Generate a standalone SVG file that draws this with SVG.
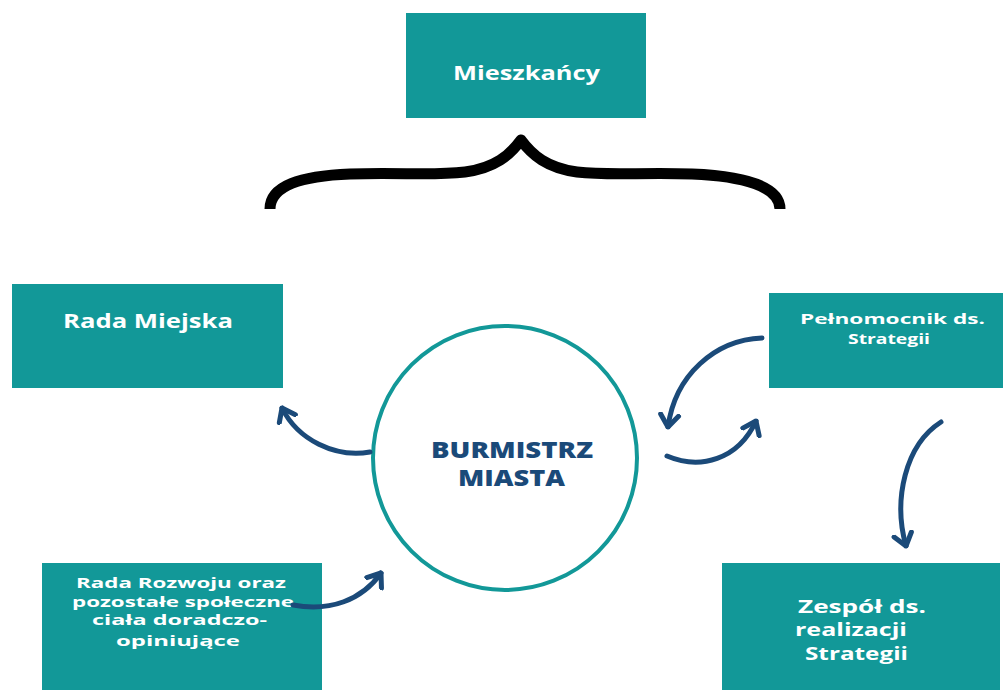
<svg xmlns="http://www.w3.org/2000/svg" width="1003" height="690" viewBox="0 0 1003 690">
<style>
.box{fill:#129898}
.t{fill:#fff;font-family:"Open Sans",sans-serif;font-weight:bold}
.arr{fill:none;stroke:#1b4a79;stroke-width:5;stroke-linecap:round;stroke-linejoin:round}
.bt{font-family:"Open Sans",sans-serif;font-weight:800;fill:#1b4a79}
</style>
<defs>
<marker id="ah" viewBox="-14 -12 16 24" markerWidth="16" markerHeight="24" refX="0" refY="0" orient="auto" markerUnits="userSpaceOnUse">
<path d="M-12,-9 L0,0 L-12,9" fill="none" stroke="#1b4a79" stroke-width="5" stroke-linecap="round" stroke-linejoin="round"/>
</marker>
</defs>
<rect width="1003" height="690" fill="#fff"/>
<g id="mieszkancy">
<rect class="box" x="406" y="13" width="240" height="105"/>
<text class="t" x="453" y="80" font-size="19" textLength="147" lengthAdjust="spacingAndGlyphs">Mieszkańcy</text>
</g>
<g id="brace">
<path d="M270,209 C270,186 300,176 350,174 C400,172 430,176 465,172 C495,168 510,155 521,140 C532,155 547,168 577,172 C612,176 642,172 692,174 C742,176 780,186 780,209" fill="none" stroke="#000" stroke-width="11" stroke-linejoin="round"/>
</g>
<g id="rada-miejska">
<rect class="box" x="12" y="284" width="271" height="104"/>
<text class="t" x="63" y="328" font-size="19" textLength="170" lengthAdjust="spacingAndGlyphs">Rada Miejska</text>
</g>
<g id="pelnomocnik">
<rect class="box" x="769" y="293" width="234" height="95"/>
<text class="t" x="800" y="324" font-size="15" textLength="185" lengthAdjust="spacingAndGlyphs">Pełnomocnik ds.</text>
<text class="t" x="848" y="344" font-size="15" textLength="82" lengthAdjust="spacingAndGlyphs">Strategii</text>
</g>
<g id="burmistrz">
<circle cx="505" cy="458" r="132" fill="#fff" stroke="#129898" stroke-width="4"/>
<text class="bt" x="431" y="458" font-size="22" textLength="162" lengthAdjust="spacingAndGlyphs">BURMISTRZ</text>
<text class="bt" x="458" y="486" font-size="22" textLength="107" lengthAdjust="spacingAndGlyphs">MIASTA</text>
</g>
<g id="rada-rozwoju">
<rect class="box" x="42" y="563" width="280" height="127"/>
<g class="t" font-size="14.5">
<text x="76" y="588" textLength="210" lengthAdjust="spacingAndGlyphs">Rada Rozwoju oraz</text>
<text x="72" y="607" textLength="222" lengthAdjust="spacingAndGlyphs">pozostałe społeczne</text>
<text x="92" y="625" textLength="175" lengthAdjust="spacingAndGlyphs">ciała doradczo-</text>
<text x="116" y="646" textLength="124" lengthAdjust="spacingAndGlyphs">opiniujące</text>
</g>
</g>
<g id="zespol">
<rect class="box" x="722" y="563" width="278" height="127"/>
<g class="t" font-size="17">
<text x="798" y="613" textLength="128" lengthAdjust="spacingAndGlyphs">Zespół ds.</text>
<text x="795" y="636" textLength="112" lengthAdjust="spacingAndGlyphs">realizacji</text>
<text x="805" y="660" textLength="103" lengthAdjust="spacingAndGlyphs">Strategii</text>
</g>
</g>
<g id="connectors">
<path class="arr" d="M370,452 C335,458 298,440 282,408" marker-end="url(#ah)"/>
<path class="arr" d="M762,338 C715,340 675,375 668,427" marker-end="url(#ah)"/>
<path class="arr" d="M667,456 C700,470 738,460 756,421" marker-end="url(#ah)"/>
<path class="arr" d="M941,422 C905,445 893,500 906,546" marker-end="url(#ah)"/>
<path class="arr" d="M293,605 C330,612 362,600 381,573" marker-end="url(#ah)"/>
</g>
</svg>
